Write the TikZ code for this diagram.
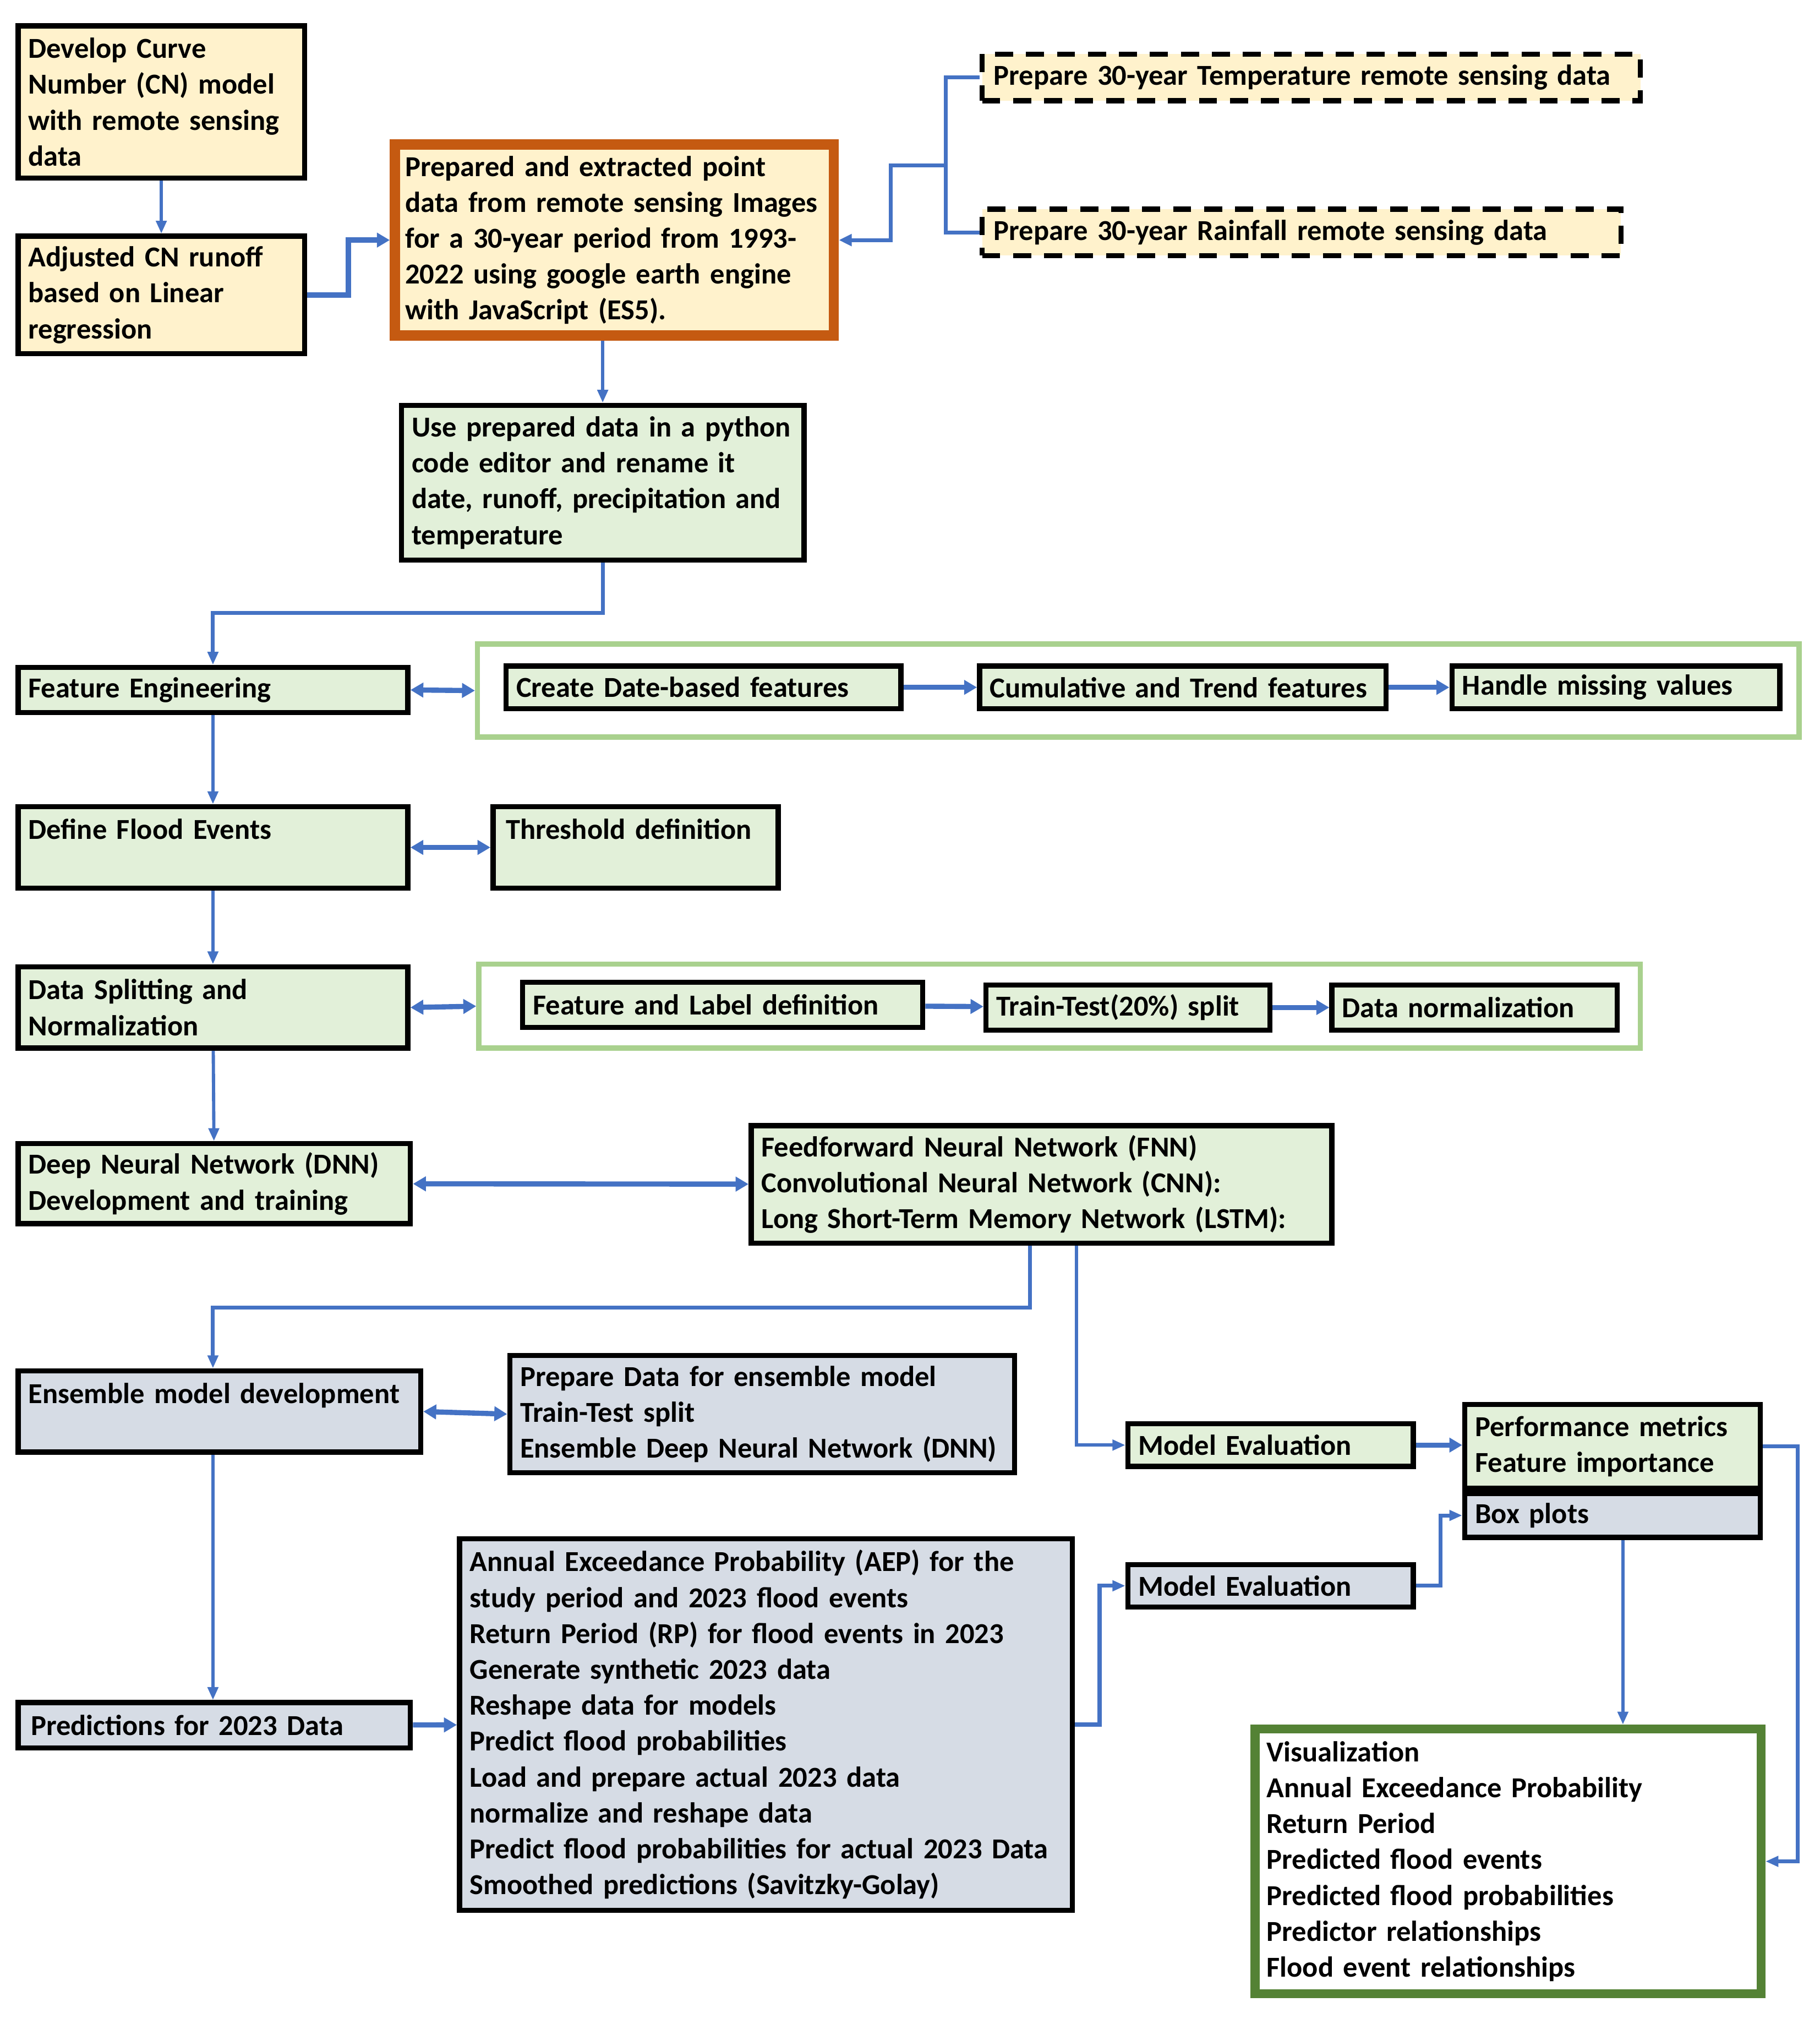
\documentclass[tikz,border=0pt]{standalone}
\usepackage{fontspec}
\setmainfont{Carlito}
\usepackage{tikz}
\usetikzlibrary{arrows.meta}
\definecolor{NoteYellow}{HTML}{FFF2CC}
\definecolor{StepGreen}{HTML}{E2F0D9}
\definecolor{StepGray}{HTML}{D6DCE5}
\definecolor{PrepOrange}{HTML}{C55A11}
\definecolor{GroupGreen}{HTML}{A9D18E}
\definecolor{OutGreen}{HTML}{548235}
\definecolor{LinkBlue}{HTML}{4472C4}

\begin{document}
\begin{tikzpicture}[x=1pt, y=-1pt,
  font=\fontsize{22.4}{27.8}\selectfont\bfseries,
  box/.style={draw=black, line width=4pt, anchor=north west, align=left,
    inner xsep=8pt, inner ysep=2pt},
  ylw/.style={box, fill=NoteYellow},
  grn/.style={box, fill=StepGreen},
  gry/.style={box, fill=StepGray},
  topline/.style={text height=15pt, text depth=28pt},
  grp/.style={draw=GroupGreen, line width=4pt, anchor=north west, inner sep=0pt},
  link/.style={draw=LinkBlue, line width=2.5pt, -{Triangle[length=10pt,width=8pt]}},
  bus/.style={draw=LinkBlue, line width=3pt},
  wide/.style={draw=LinkBlue, line width=4pt, -{Triangle[length=10pt,width=11pt]}},
  both/.style={wide, {Triangle[length=10pt,width=11pt]}-{Triangle[length=10pt,width=11pt]}}]
  \useasboundingbox (0,0) rectangle (1410,1568);

  % data preparation
  \node[ylw, minimum width=222pt, minimum height=118pt, text width=206pt] (cn) at (12,18)
    {Develop Curve\\Number (CN) model\\with remote sensing\\data};
  \node[ylw, minimum width=222pt, minimum height=91pt, text width=206pt] (adj) at (12,181)
    {Adjusted CN runoff\\based on Linear\\regression};
  \node[ylw, draw=PrepOrange, line width=8pt, inner xsep=8pt, minimum width=340pt,
    minimum height=148pt, text width=324pt] (prep) at (302,108)
    {Prepared and extracted point\\data from remote sensing Images\\for a 30-year period from 1993-\\2022 using google earth engine\\with JavaScript (ES5).};
  \node[ylw, dash pattern=on 14pt off 10pt, inner xsep=9pt, minimum width=510pt,
    minimum height=36pt, text width=492pt] (temp) at (759,40)
    {Prepare 30-year Temperature remote sensing data};
  \node[ylw, dash pattern=on 14pt off 10pt, inner xsep=9pt, minimum width=495pt,
    minimum height=36pt, text width=477pt] (rain) at (759,160)
    {Prepare 30-year Rainfall\ remote sensing data};
  \node[grn, minimum width=312pt, minimum height=120pt, text width=296pt] (use) at (309,312)
    {Use prepared data in a python\\code editor and rename it\\date, runoff, precipitation and\\temperature};

  % feature engineering and flood events
  \node[grp, minimum width=1024pt, minimum height=72pt] (featgrp) at (368,497) {};
  \node[grn, minimum width=302pt, minimum height=35pt, text width=286pt] (fe) at (12,515)
    {Feature Engineering};
  \node[grn, minimum width=306pt, minimum height=33pt, text width=290pt] (date) at (390,514)
    {Create Date-based features};
  \node[grn, minimum width=315pt, minimum height=33pt, text width=299pt] (cum) at (757,514)
    {Cumulative and Trend features};
  \node[grn, minimum width=254pt, minimum height=33pt, text width=238pt] (miss) at (1123,514)
    {Handle missing values};
  \node[grn, topline, minimum width=302pt, minimum height=63pt, text width=286pt] (dfe) at (12,623)
    {Define Flood Events};
  \node[grn, topline, inner xsep=10pt, minimum width=221pt, minimum height=63pt, text width=201pt] (thr) at (380,623)
    {Threshold definition};

  % splitting
  \node[grp, minimum width=900pt, minimum height=65pt] (splitgrp) at (369,745) {};
  \node[grn, minimum width=302pt, minimum height=63pt, text width=286pt] (dsn) at (12,747)
    {Data Splitting and\\Normalization};
  \node[grn, minimum width=310pt, minimum height=35pt, text width=294pt] (lab) at (403,759)
    {Feature and Label definition};
  \node[grn, minimum width=220pt, minimum height=35pt, text width=204pt] (tts) at (762,761)
    {Train-Test(20\%) split};
  \node[grn, minimum width=221pt, minimum height=35pt, text width=205pt] (norm) at (1030,761)
    {Data normalization};

  % networks
  \node[grn, minimum width=304pt, minimum height=62pt, text width=288pt] (dnn) at (12,884)
    {Deep Neural Network (DNN)\\Development and training};
  \node[grn, minimum width=450pt, minimum height=91pt, text width=434pt] (nets) at (580,870)
    {Feedforward Neural Network (FNN)\\Convolutional Neural Network (CNN):\\Long Short-Term Memory Network (LSTM):};

  % ensemble and predictions
  \node[gry, topline, minimum width=312pt, minimum height=63pt, text width=296pt] (ens) at (12,1060)
    {Ensemble model development};
  \node[gry, minimum width=391pt, minimum height=91pt, text width=375pt] (ensd) at (393,1048)
    {Prepare Data for ensemble model\\Train-Test split\\Ensemble Deep Neural Network (DNN)};
  \node[gry, inner xsep=10pt, minimum width=304pt, minimum height=35pt, text width=284pt] (pred) at (12,1317)
    {Predictions for 2023 Data};
  \node[gry, minimum width=475pt, minimum height=288pt, text width=459pt] (aep) at (354,1190)
    {Annual Exceedance Probability (AEP) for the\\study period and 2023 flood events\\Return Period (RP) for flood events in 2023\\Generate synthetic 2023 data\\Reshape data for models\\Predict flood probabilities\\Load and prepare actual 2023 data\\normalize and reshape data\\Predict flood probabilities for actual 2023 Data\\Smoothed predictions (Savitzky-Golay)};

  % evaluation and visualization
  \node[grn, minimum width=221pt, minimum height=33pt, text width=205pt] (me1) at (872,1101)
    {Model Evaluation};
  \node[gry, minimum width=221pt, minimum height=33pt, text width=205pt] (me2) at (872,1210)
    {Model Evaluation};
  \node[grn, minimum width=229pt, minimum height=65pt, text width=213pt] (perf) at (1133,1086)
    {Performance metrics\\Feature importance};
  \node[gry, minimum width=229pt, minimum height=34pt, text width=213pt] (boxp) at (1133,1155)
    {Box plots};
  \node[box, draw=OutGreen, line width=7pt, fill=white, inner xsep=9pt, minimum width=392pt,
    minimum height=205pt, text width=374pt] (vis) at (969,1336)
    {Visualization\\Annual Exceedance Probability\\Return Period\\Predicted flood events\\Predicted flood probabilities\\Predictor relationships\\Flood event relationships};

  % connectors
  \coordinate (tfork) at (733,128);
  \draw[link] (cn) -- (adj);
  \draw[wide] (adj.east) -- ++(32,0) |- (prep.west);
  \draw[bus] (temp.west) -- ++(-26,0) |- (rain.west);
  \draw[bus, -{Triangle[length=10pt,width=9pt]}] (tfork) -- ++(-43,0) |- (prep.east);
  \draw[link] (prep.south -| use.north) -- (use.north);
  \draw[link, line width=3pt] (use.south) -- ++(0,39) -| (fe.north);
  \draw[both] (fe.east) -- (featgrp.west);
  \draw[wide] (date) -- (cum);
  \draw[wide] (cum) -- (miss);
  \draw[link] (fe) -- (dfe);
  \draw[both] (dfe) -- (thr);
  \draw[link] (dfe) -- (dsn);
  \draw[both] (dsn.east) -- (splitgrp.west);
  \draw[wide] (lab) -- (tts);
  \draw[wide] (tts) -- (norm);
  \draw[link] (dsn) -- (dnn);
  \draw[both] (dnn) -- (nets);
  \draw[link, line width=3pt] ([xshift=-9pt]nets.south) -- ++(0,48) -| ([xshift=-5pt]ens.north);
  \draw[link] ([xshift=27pt]nets.south) |- (me1.west);
  \draw[both] (ens.east) -- (ensd.west);
  \draw[link] ([xshift=-5pt]ens.south) -- ([xshift=-5pt]ens.south |- pred.north);
  \draw[wide] (pred) -- (aep);
  \draw[link, line width=3pt] (aep.east) -- ++(19,0) |- (me2.west);
  \draw[wide] (me1) -- (perf.west |- me1);
  \draw[link, line width=3pt] (me2.east) -- ++(19,0) |- (boxp.west);
  \draw[link] ([xshift=8pt]boxp.south) -- ([xshift=8pt]boxp.south |- vis.north);
  \draw[link, line width=3pt] (perf.east) -- ++(27,0) |- (vis.east);
\end{tikzpicture}
\end{document}
